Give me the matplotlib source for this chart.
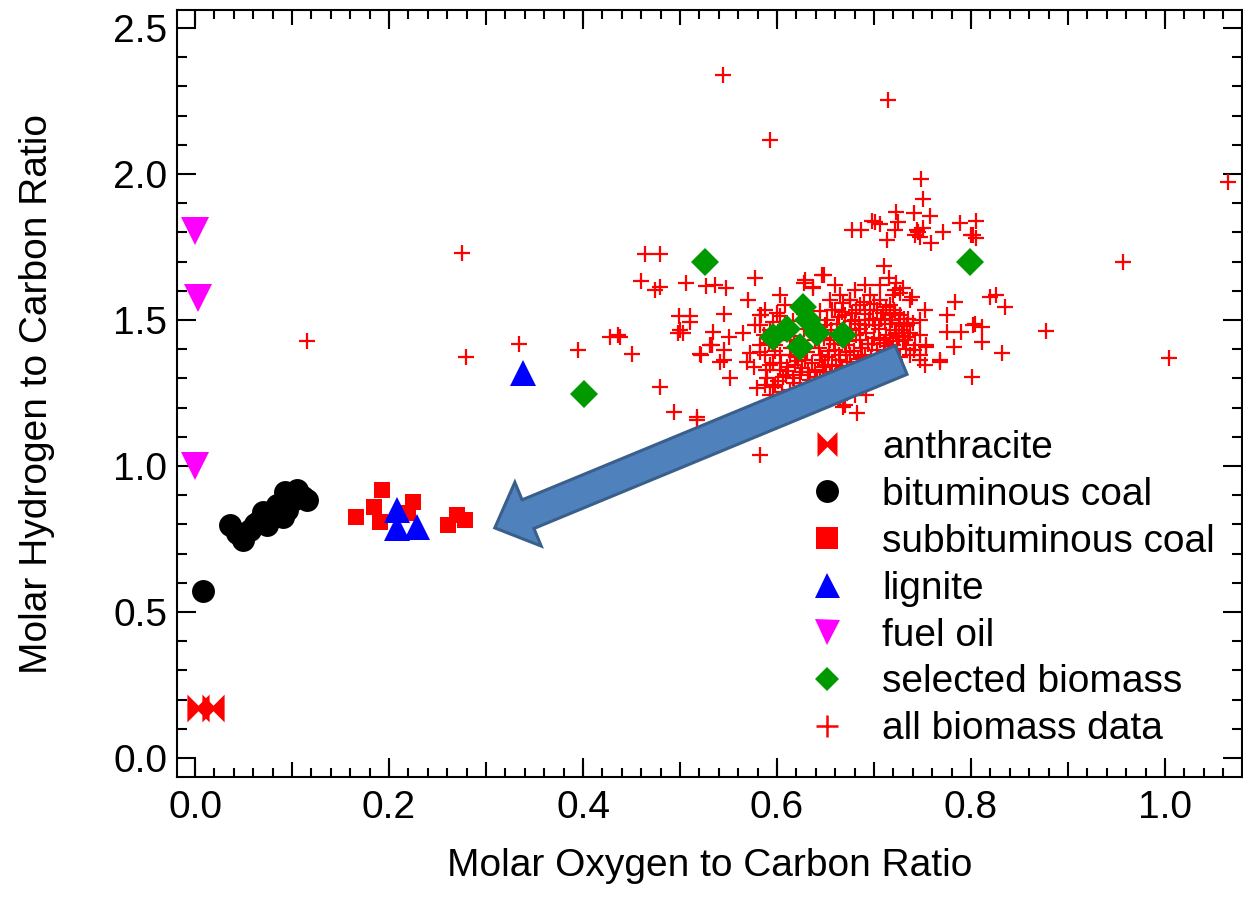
import matplotlib
matplotlib.use('Agg')
import matplotlib.pyplot as plt
import numpy as np
from matplotlib.lines import Line2D
from matplotlib.path import Path
from matplotlib.patches import Polygon
from matplotlib.transforms import IdentityTransform
from matplotlib.ticker import MultipleLocator, FormatStrFormatter, FixedLocator, NullFormatter

plt.rcParams['font.family'] = ['Liberation Sans', 'DejaVu Sans']

# ---------------- data ----------------
anthracite_x = [0.003, 0.019]
anthracite_y = [0.171, 0.171]

bituminous_x = [0.008, 0.036, 0.049, 0.057, 0.070, 0.074, 0.067, 0.093, 0.095,
                0.101, 0.111, 0.115, 0.105, 0.091, 0.085, 0.043, 0.062, 0.080]
bituminous_y = [0.572, 0.798, 0.747, 0.781, 0.842, 0.798, 0.815, 0.911, 0.849,
                0.884, 0.894, 0.884, 0.918, 0.825, 0.866, 0.770, 0.800, 0.835]

subbit_x = [0.166, 0.193, 0.185, 0.191, 0.225, 0.220, 0.261, 0.270, 0.278]
subbit_y = [0.826, 0.918, 0.861, 0.809, 0.878, 0.838, 0.798, 0.832, 0.815]

lignite_x = [0.208, 0.208, 0.229, 0.338]
lignite_y = [0.849, 0.788, 0.792, 1.318]

fueloil_x = [0.0, 0.003, 0.0]
fueloil_y = [1.805, 1.575, 1.000]

selected_x = [0.526, 0.799, 0.401, 0.596, 0.627, 0.624, 0.641, 0.668, 0.632, 0.610]
selected_y = [1.699, 1.699, 1.247, 1.443, 1.546, 1.409, 1.454, 1.449, 1.500, 1.470]

biomass_xy = [
    (0.544, 2.339), (0.593, 2.116), (0.714, 2.253), (1.065, 1.973), (0.957, 1.699),
    (1.004, 1.370), (0.877, 1.462), (0.275, 1.729), (0.279, 1.374), (0.334, 1.417),
    (0.395, 1.397), (0.428, 1.443), (0.438, 1.443), (0.115, 1.428), (0.582, 1.038),
    (0.464, 1.726), (0.479, 1.726), (0.460, 1.635), (0.474, 1.603), (0.479, 1.612),
    (0.506, 1.626), (0.527, 1.616), (0.536, 1.620), (0.547, 1.608), (0.577, 1.643),
    (0.570, 1.568), (0.603, 1.586), (0.628, 1.626), (0.637, 1.608), (0.600, 1.523),
    (0.582, 1.517), (0.545, 1.521), (0.499, 1.512), (0.510, 1.512),
    (0.748, 1.982), (0.750, 1.913), (0.723, 1.871), (0.741, 1.865), (0.758, 1.856),
    (0.725, 1.837), (0.701, 1.837), (0.677, 1.808), (0.687, 1.808), (0.713, 1.774),
    (0.722, 1.808), (0.744, 1.808), (0.751, 1.814), (0.747, 1.785), (0.759, 1.762),
    (0.771, 1.802), (0.789, 1.831), (0.805, 1.840), (0.802, 1.791), (0.710, 1.685),
    (0.715, 1.643), (0.723, 1.626), (0.727, 1.591), (0.739, 1.580), (0.720, 1.586),
    (0.730, 1.608), (0.629, 1.637), (0.637, 1.614), (0.648, 1.654), (0.660, 1.620),
    (0.784, 1.563), (0.775, 1.517), (0.820, 1.580), (0.826, 1.586), (0.835, 1.546),
    (0.675, 1.568), (0.668, 1.557), (0.800, 1.790), (0.805, 1.780), (0.698, 1.840),
    (0.706, 1.830), (0.745, 1.800), (0.742, 1.790),
    (0.436, 1.449), (0.450, 1.384), (0.479, 1.270), (0.494, 1.186), (0.517, 1.158),
    (0.510, 1.494), (0.498, 1.454), (0.503, 1.454), (0.534, 1.460), (0.531, 1.414),
    (0.521, 1.384), (0.550, 1.441), (0.565, 1.454), (0.577, 1.483), (0.584, 1.517),
    (0.545, 1.363), (0.541, 1.357), (0.552, 1.300), (0.579, 1.266), (0.572, 1.386),
    (0.576, 1.340), (0.569, 1.357), (0.588, 1.277), (0.596, 1.272), (0.589, 1.329),
    (0.596, 1.352), (0.606, 1.306), (0.617, 1.300), (0.625, 1.323), (0.610, 1.340),
    (0.582, 1.392),
    (0.775, 1.460), (0.790, 1.460), (0.802, 1.483), (0.811, 1.477), (0.811, 1.426),
    (0.782, 1.409), (0.832, 1.386), (0.801, 1.304), (0.768, 1.357), (0.754, 1.414),
    (0.747, 1.380), (0.753, 1.346), (0.741, 1.397), (0.737, 1.454), (0.734, 1.483),
    (0.730, 1.432), (0.723, 1.454), (0.716, 1.517), (0.703, 1.534), (0.668, 1.203),
    (0.682, 1.180), (0.692, 1.243),
    (0.517, 1.169), (0.500, 1.466), (0.545, 1.397), (0.522, 1.380), (0.533, 1.414),
    (0.646, 1.654), (0.804, 1.488), (0.754, 1.409), (0.768, 1.363), (0.747, 1.363),
    (0.735, 1.443), (0.740, 1.490), (0.670, 1.209),
    (0.593, 1.466), (0.598, 1.414), (0.603, 1.380), (0.608, 1.483), (0.613, 1.432),
    (0.619, 1.346), (0.624, 1.312), (0.629, 1.363), (0.634, 1.295), (0.639, 1.329),
    (0.644, 1.380), (0.649, 1.346), (0.655, 1.312), (0.660, 1.397), (0.665, 1.363),
    (0.670, 1.414), (0.675, 1.466), (0.680, 1.500), (0.686, 1.432), (0.691, 1.380),
    (0.696, 1.534), (0.701, 1.483), (0.706, 1.432), (0.711, 1.500), (0.716, 1.551),
    (0.722, 1.466), (0.727, 1.517), (0.732, 1.432), (0.675, 1.568), (0.686, 1.551),
    (0.696, 1.586), (0.706, 1.568), (0.670, 1.517), (0.660, 1.534), (0.649, 1.483),
    (0.639, 1.432), (0.624, 1.414), (0.613, 1.380), (0.603, 1.329), (0.593, 1.346),
    (0.588, 1.380), (0.582, 1.414), (0.598, 1.277), (0.613, 1.260), (0.629, 1.243),
    (0.644, 1.295), (0.660, 1.260), (0.675, 1.295), (0.686, 1.329), (0.701, 1.346),
    (0.711, 1.380), (0.722, 1.363), (0.737, 1.380), (0.742, 1.414), (0.747, 1.449),
    (0.582, 1.483), (0.588, 1.534), (0.608, 1.551), (0.655, 1.568), (0.665, 1.586),
    (0.680, 1.603), (0.691, 1.620), (0.706, 1.620), (0.722, 1.603), (0.737, 1.568),
    (0.747, 1.500), (0.753, 1.534), (0.665, 1.449), (0.655, 1.432), (0.675, 1.380),
    (0.691, 1.483), (0.711, 1.329), (0.696, 1.295), (0.680, 1.243), (0.665, 1.226),
    (0.639, 1.226), (0.624, 1.209), (0.608, 1.226), (0.593, 1.243),
    (0.657, 1.534), (0.667, 1.529), (0.677, 1.524), (0.691, 1.520),
    # dense core
    (0.598, 1.395), (0.604, 1.352), (0.609, 1.312), (0.614, 1.403), (0.618, 1.285),
    (0.620, 1.372), (0.626, 1.335), (0.631, 1.392), (0.633, 1.270), (0.636, 1.352),
    (0.641, 1.305), (0.643, 1.405), (0.646, 1.362), (0.650, 1.322), (0.652, 1.275),
    (0.654, 1.395), (0.657, 1.345), (0.659, 1.418), (0.662, 1.302), (0.664, 1.380),
    (0.667, 1.332), (0.669, 1.470), (0.672, 1.355), (0.674, 1.428), (0.677, 1.318),
    (0.679, 1.395), (0.681, 1.450), (0.683, 1.365), (0.685, 1.488), (0.688, 1.405),
    (0.690, 1.345), (0.692, 1.455), (0.694, 1.418), (0.697, 1.372), (0.699, 1.505),
    (0.700, 1.440), (0.703, 1.398), (0.705, 1.470), (0.708, 1.355), (0.709, 1.525),
    (0.712, 1.448), (0.714, 1.410), (0.717, 1.485), (0.719, 1.395), (0.721, 1.535),
    (0.724, 1.428), (0.726, 1.490), (0.729, 1.465), (0.731, 1.505), (0.733, 1.400),
    (0.690, 1.560), (0.700, 1.555), (0.712, 1.545), (0.722, 1.525), (0.681, 1.535),
    (0.618, 1.445), (0.628, 1.470), (0.640, 1.460), (0.652, 1.500), (0.662, 1.485),
    (0.616, 1.495), (0.628, 1.520), (0.644, 1.530), (0.603, 1.515), (0.596, 1.492),
    (0.645, 1.255), (0.657, 1.240), (0.668, 1.270), (0.684, 1.282), (0.700, 1.315),
    (0.715, 1.355), (0.727, 1.375), (0.620, 1.240), (0.605, 1.255), (0.590, 1.300),
    (0.601, 1.292), (0.611, 1.325), (0.622, 1.358), (0.632, 1.322), (0.638, 1.282),
    (0.647, 1.338), (0.653, 1.372), (0.661, 1.342), (0.666, 1.292), (0.671, 1.392),
    (0.676, 1.342), (0.682, 1.305), (0.687, 1.372), (0.693, 1.320), (0.698, 1.418),
    (0.704, 1.372), (0.710, 1.420), (0.716, 1.440), (0.720, 1.415), (0.726, 1.445),
    (0.731, 1.478), (0.735, 1.505), (0.719, 1.500), (0.707, 1.505), (0.695, 1.500),
    (0.686, 1.470), (0.676, 1.495), (0.664, 1.510), (0.656, 1.465), (0.648, 1.440),
    (0.606, 1.455), (0.612, 1.470), (0.600, 1.430), (0.592, 1.420), (0.587, 1.450),
    (0.635, 1.255), (0.650, 1.290), (0.663, 1.320), (0.672, 1.305), (0.689, 1.300),
]
biomass_x = [p[0] for p in biomass_xy]
biomass_y = [p[1] for p in biomass_xy]

legend_labels = ['anthracite', 'bituminous coal', 'subbituminous coal', 'lignite',
                 'fuel oil', 'selected biomass', 'all biomass data']

x_label = 'Molar Oxygen to Carbon Ratio'
y_label = 'Molar Hydrogen to Carbon Ratio'
x_ticks = [0.0, 0.2, 0.4, 0.6, 0.8, 1.0]

# arrow endpoints (data coordinates): tail -> tip
arrow_tail = (0.728, 1.363)
arrow_tip = (0.309, 0.788)

# ---------------- figure ----------------
W, H = 1243, 901
fig = plt.figure(figsize=(W / 100, H / 100), dpi=100)
ax = fig.add_axes([177 / W, (H - 777) / H, (1242 - 177) / W, (777 - 10) / H])
ax.set_xlim(-0.0186, 1.0794)
ax.set_ylim(-0.065, 2.5616)

bowtie = Path([(-0.8, -1), (-0.8, 1), (0, 0.2), (0.8, 1), (0.8, -1), (0, -0.2), (-0.8, -1)],
              [Path.MOVETO] + [Path.LINETO] * 5 + [Path.CLOSEPOLY])

RED = '#FF0000'
ax.plot(biomass_x, biomass_y, ls='none', marker='+', ms=11, mew=1.6, color=RED, zorder=2)
ax.plot(anthracite_x, anthracite_y, ls='none', marker=bowtie, ms=20, color=RED, mew=0, zorder=3)
ax.plot(bituminous_x, bituminous_y, ls='none', marker='o', ms=16.5, color='black', mew=0, zorder=3)
ax.plot(subbit_x, subbit_y, ls='none', marker='s', ms=11, color=RED, mew=0, zorder=3)
ax.plot(lignite_x, lignite_y, ls='none', marker='^', ms=19, color='#0000FF', mew=0, zorder=4)
ax.plot(fueloil_x, fueloil_y, ls='none', marker='v', ms=20, color='#FF00FF', mew=0, zorder=3,
        clip_on=False)
ax.plot(selected_x, selected_y, ls='none', marker='D', ms=14.5, color='#009900', mew=0, zorder=4)

# ---------------- ticks ----------------
LW = 1.5
for s in ax.spines.values():
    s.set_linewidth(LW)

ax.xaxis.set_major_locator(MultipleLocator(0.1))
ax.xaxis.set_minor_locator(MultipleLocator(0.02))
ax.xaxis.set_major_formatter(NullFormatter())
ax.yaxis.set_major_locator(MultipleLocator(0.5))
ax.yaxis.set_minor_locator(MultipleLocator(0.1))
ax.yaxis.set_major_formatter(FormatStrFormatter('%.1f'))
ax.tick_params(which='both', direction='in', top=True, right=True, width=LW, color='black')
ax.tick_params(axis='x', which='major', length=10.5, labelbottom=False)
ax.tick_params(axis='x', which='minor', length=6.5)
ax.tick_params(axis='y', which='major', length=14, labelsize=28, pad=7)
ax.tick_params(axis='y', which='minor', length=7)

for loc in ('bottom', 'top'):
    sec = ax.secondary_xaxis(loc)
    sec.xaxis.set_major_locator(FixedLocator(x_ticks))
    sec.xaxis.set_minor_locator(FixedLocator([]))
    sec.spines[loc].set_visible(False)
    sec.tick_params(direction='in', length=14, width=LW, labelsize=28, pad=9)
    if loc == 'bottom':
        sec.xaxis.set_major_formatter(FormatStrFormatter('%.1f'))
        sec.set_xlabel(x_label, fontsize=28, labelpad=16)
    else:
        sec.xaxis.set_major_formatter(NullFormatter())

ax.set_ylabel(y_label, fontsize=28, labelpad=42)

# ---------------- legend ----------------
handles = [
    Line2D([], [], ls='none', marker=bowtie, ms=18, color=RED, mew=0),
    Line2D([], [], ls='none', marker='o', ms=16.5, color='black', mew=0),
    Line2D([], [], ls='none', marker='s', ms=16.5, color=RED, mew=0),
    Line2D([], [], ls='none', marker='^', ms=18, color='#0000FF', mew=0),
    Line2D([], [], ls='none', marker='v', ms=18, color='#FF00FF', mew=0),
    Line2D([], [], ls='none', marker='D', ms=12.5, color='#009900', mew=0),
    Line2D([], [], ls='none', marker='+', ms=16.5, mew=1.8, color=RED),
]
fig.legend(handles, legend_labels, loc='upper left',
           bbox_to_anchor=(808 / W, (H - 430) / H), frameon=False,
           fontsize=28, handlelength=1.0, handletextpad=0.9, labelspacing=0.28,
           borderpad=0, borderaxespad=0)

# ---------------- block arrow ----------------
fig.canvas.draw()
p_tail = ax.transData.transform(arrow_tail)
p_tip = ax.transData.transform(arrow_tip)
u = (p_tip - p_tail) / np.hypot(*(p_tip - p_tail))
n = np.array([-u[1], u[0]])
sw, hw, hl = 15.5, 34.5, 36.0
base = p_tip - hl * u
pts = [p_tail + sw * n, base + sw * n, base + hw * n, p_tip,
       base - hw * n, base - sw * n, p_tail - sw * n]
arrow = Polygon(pts, closed=True, transform=IdentityTransform(),
                facecolor='#4F81BD', edgecolor='#3A5F8B', linewidth=2.2, zorder=6)
fig.add_artist(arrow)

fig.savefig('out.png', dpi=100)
